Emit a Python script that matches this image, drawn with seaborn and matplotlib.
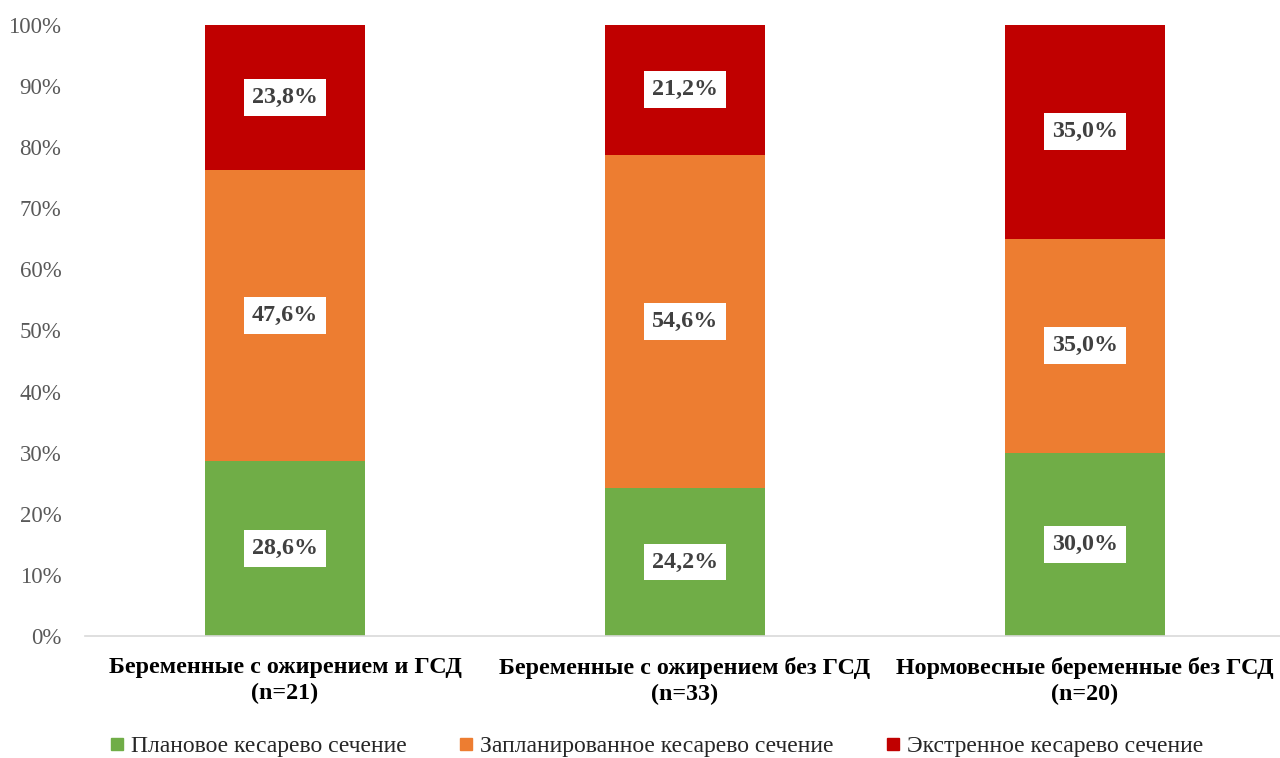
import numpy as np
import pandas as pd
import matplotlib
matplotlib.use("Agg")
import matplotlib.pyplot as plt
from matplotlib.lines import Line2D
import seaborn as sns

categories = [
    "Беременные с ожирением и ГСД\n(n=21)",
    "Беременные с ожирением без ГСД\n(n=33)",
    "Нормовесные беременные без ГСД\n(n=20)",
]
planned = [28.6, 24.2, 30.0]
scheduled = [47.6, 54.6, 35.0]
emergency = [23.8, 21.2, 35.0]
series_names = [
    "Плановое кесарево сечение",
    "Запланированное кесарево сечение",
    "Экстренное кесарево сечение",
]
colors = ["#70AD47", "#ED7D31", "#C00000"]
yticks = [0, 10, 20, 30, 40, 50, 60, 70, 80, 90, 100]

sns.set_theme(style="white")
plt.rcParams["font.family"] = ["Liberation Serif", "DejaVu Serif"]

df = pd.DataFrame({
    "cat": categories,
    "planned": planned,
    "scheduled": scheduled,
    "emergency": emergency,
})
df["top1"] = df["planned"] + df["scheduled"]
df["top2"] = df["top1"] + df["emergency"]

fig = plt.figure(figsize=(12.8, 7.58), dpi=100)
ax = fig.add_axes([85 / 1280, 1 - 636 / 758, 1195 / 1280, 611 / 758])

# stacked bars drawn as cumulative layers, tallest first
for col, color in zip(["top2", "top1", "planned"], colors[::-1]):
    sns.barplot(data=df, x="cat", y=col, color=color, width=0.4,
                saturation=1, ax=ax, linewidth=0)

ax.set_xlim(-0.5, 2.4875)
ax.set_ylim(0, 100)
ax.set_yticks(yticks)
ax.set_yticklabels([f"{t}%" for t in yticks], fontsize=16.5, color="#595959")
ax.set_xticks(range(len(categories)))
ax.set_xticklabels(categories, fontsize=17.3, fontweight="bold", color="black",
                   linespacing=1.3)
ax.tick_params(axis="x", length=0, pad=15)
ax.tick_params(axis="y", length=0, pad=17)
ax.set_xlabel("")
ax.set_ylabel("")
for s in ["top", "right", "left"]:
    ax.spines[s].set_visible(False)
ax.spines["bottom"].set_color("#D9D9D9")
ax.spines["bottom"].set_linewidth(1.2)

# value labels in white boxes
for i in range(len(categories)):
    segs = [(0, planned[i]), (planned[i], scheduled[i]),
            (planned[i] + scheduled[i], emergency[i])]
    for base, val in segs:
        ax.text(i, base + val / 2, f"{val:.1f}%".replace(".", ","),
                ha="center", va="center", fontsize=17.3, fontweight="bold",
                color="#404040",
                bbox=dict(boxstyle="square,pad=0.33", fc="white", ec="none"))

handles = [Line2D([0], [0], marker="s", linestyle="none", markersize=8.5,
                  markerfacecolor=c, markeredgecolor=c) for c in colors]
fig.legend(handles, series_names, loc="center", bbox_to_anchor=(0.511, 1 - 746 / 758),
           ncol=3, frameon=False, fontsize=17, handletextpad=0.1,
           columnspacing=2.0, handlelength=1.0)

fig.savefig("out.png", dpi=100, facecolor="white")
